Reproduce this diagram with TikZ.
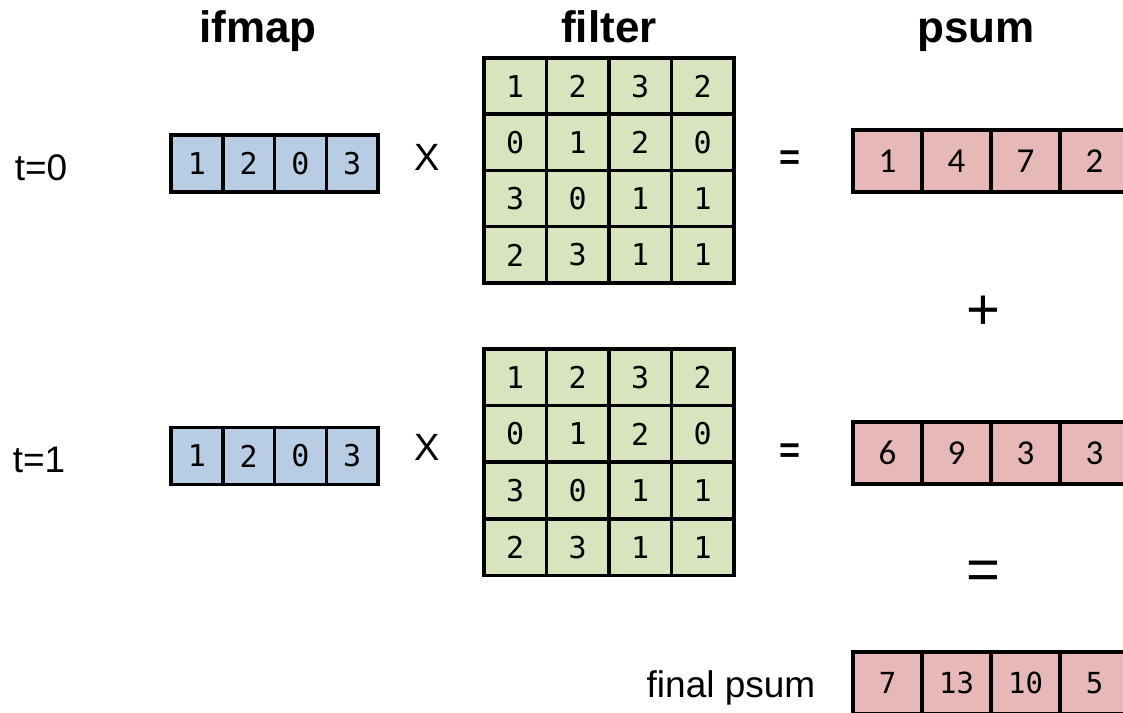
\documentclass[tikz,border=0pt]{standalone}
\usepackage{fontspec}
\setmainfont{Liberation Sans}
\newfontfamily\cellmono{DejaVu Sans Mono}
\newfontfamily\cellsans{Carlito}
\definecolor{ifmapblue}{HTML}{B8CCE4}
\definecolor{filtergreen}{HTML}{D7E4BD}
\definecolor{psumpink}{HTML}{E6B9B8}
\newcommand{\fsz}[1]{\fontsize{#1pt}{#1pt}\selectfont}
\begin{document}
\begin{tikzpicture}[x=1pt,y=-1pt,
  cell/.style={draw=black, line width=3.5pt, inner sep=0pt, anchor=center},
  incell/.style={cell, fill=ifmapblue, minimum width=51.75pt, minimum height=57pt, font=\cellmono\fsz{30}},
  wcell/.style={cell, fill=filtergreen, minimum width=62.5pt, minimum height=56.4pt, font=\cellmono\fsz{30}},
  pcell/.style={cell, fill=psumpink, minimum width=69pt, minimum height=62pt, font=\cellsans\fsz{35}},
  fcell/.style={cell, fill=psumpink, minimum width=69pt, minimum height=62pt, font=\cellmono\fsz{29}},
  title/.style={font=\bfseries\fsz{44}, anchor=base, inner sep=0pt},
  lbl/.style={font=\fsz{37}, anchor=base, inner sep=0pt},
  op/.style={font=\fsz{38}, anchor=base, inner sep=0pt},
  eqs/.style={font=\bfseries\fsz{36}, anchor=center, inner sep=0pt},
  bigop/.style={font=\fsz{58}, anchor=center, inner sep=0pt}]
\useasboundingbox (0,0) rectangle (1123,712);
\clip (0,0) rectangle (1123,712);

% column headings
\node[title] (hifmap) at (258,42) {ifmap};
\node[title] (hfilter) at (609,42) {filter};
\node[title] (hpsum) at (976,42) {psum};

% time step labels
\node[lbl] (t0) at (41,180) {t=0};
\node[lbl] (t1) at (39,472) {t=1};
\node[lbl] (tfinal) at (731,697) {final psum};

% input feature map vectors
\foreach \v [count=\i] in {1,2,0,3} {
  \node[incell] (a0-\i) at ({171+51.75*(\i-0.5)},163.5) {\v};
  \node[incell] (a1-\i) at ({171+51.75*(\i-0.5)},456) {\v};
}

% filter matrices
\foreach \rowvals [count=\r] in {{1,2,3,2},{0,1,2,0},{3,0,1,1},{2,3,1,1}} {
  \foreach \v [count=\c] in \rowvals {
    \node[wcell] (w0-\r-\c) at ({484+62.5*(\c-0.5)},{58+56.25*(\r-0.5)}) {\v};
    \node[wcell] (w1-\r-\c) at ({484+62.5*(\c-0.5)},{349+56.6*(\r-0.5)}) {\v};
  }
}

% partial sums
\foreach \v [count=\i] in {1,4,7,2}
  \node[pcell] (p0-\i) at ({853+69*(\i-0.5)},161) {\v};
\foreach \v [count=\i] in {6,9,3,3}
  \node[pcell] (p1-\i) at ({853+69*(\i-0.5)},453) {\v};
\foreach \v [count=\i] in {7,13,10,5}
  \node[fcell] (pf-\i) at ({853+69*(\i-0.5)},683) {\v};

% operators
\node[op] (x0) at (427,170) {X};
\node[op] (x1) at (427,460) {X};
\node[eqs] (e0) at (790,160) {=};
\node[eqs] (e1) at (790,453) {=};
\node[bigop] (plus) at (983,313) {+};
\node[bigop] (sumeq) at (983,575) {=};
\end{tikzpicture}
\end{document}
